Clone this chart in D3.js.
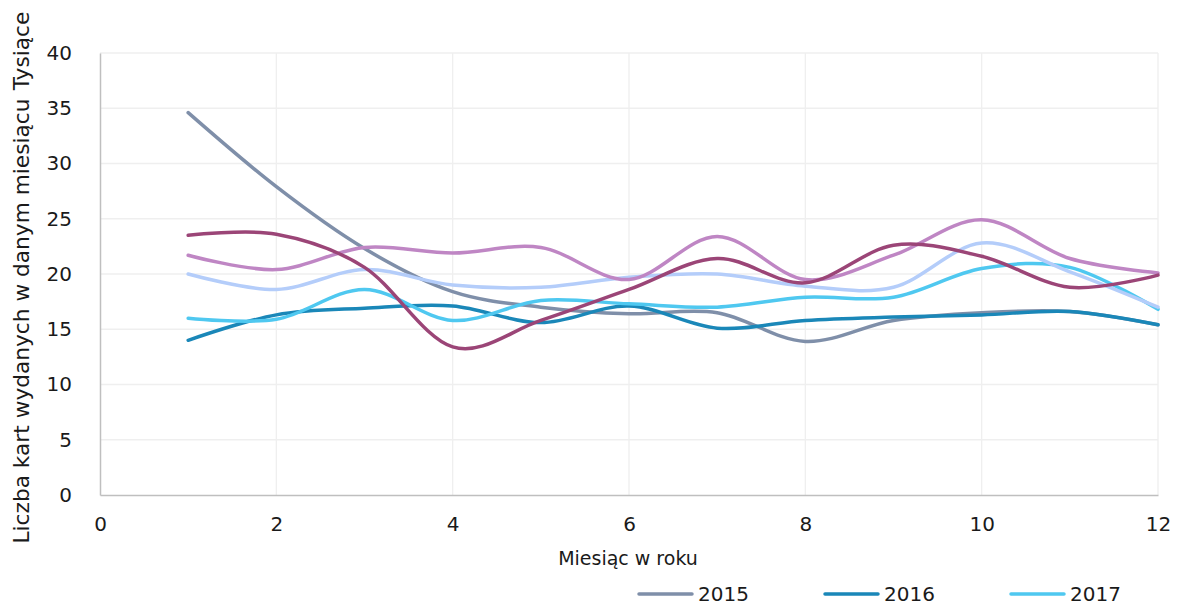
<!DOCTYPE html>
<html>
<head>
<meta charset="utf-8">
<script src="https://cdn.jsdelivr.net/npm/d3@7"></script>
<style>
  body { margin: 0; background: #fff; }
  text { font-family: "DejaVu Sans", Verdana, sans-serif; }
</style>
</head>
<body>
<div id="chart"></div>
<script>
(function(){
  'use strict';

  var months = [1, 2, 3, 4, 5, 6, 7, 8, 9, 10, 11, 12],
      seriesNames = ['2015', '2016', '2017', '2018', '2019', '2020'],
      seriesColors = ['#7f8fa9', '#1a87b8', '#4fc8f0', '#b4cdfa', '#bf86c4', '#9b4577'],
      v2015 = [34.6, 27.9, 22.3, 18.4, 17.0, 16.4, 16.5, 13.9, 15.8, 16.5, 16.6, 15.4],
      v2016 = [14.0, 16.3, 16.9, 17.1, 15.6, 17.1, 15.1, 15.8, 16.1, 16.3, 16.6, 15.4],
      v2017 = [16.0, 15.9, 18.6, 15.8, 17.6, 17.3, 17.0, 17.9, 17.9, 20.5, 20.6, 16.8],
      v2018 = [20.0, 18.6, 20.4, 19.0, 18.8, 19.7, 20.0, 18.9, 18.8, 22.8, 20.2, 17.0],
      v2019 = [21.7, 20.4, 22.4, 21.9, 22.4, 19.5, 23.4, 19.5, 21.7, 24.9, 21.4, 20.1],
      v2020 = [23.5, 23.6, 20.6, 13.4, 15.8, 18.6, 21.4, 19.2, 22.6, 21.6, 18.8, 19.9],
      seriesValues = [v2015, v2016, v2017, v2018, v2019, v2020],
      xTicks = [0, 2, 4, 6, 8, 10, 12],
      yTicks = [0, 5, 10, 15, 20, 25, 30, 35, 40],
      legendCount = 3;

  var w = 1177,
      h = 606,
      fs = '20px',
      ink = '#1a1a1a',
      svg = d3.select('#chart').append('svg')
        .attr('width', w)
        .attr('height', h);

  var x = d3.scaleLinear()
      .domain([0, 12])
      .range([100, 1158]),
    y = d3.scaleLinear()
      .domain([0, 40])
      .range([495, 53]);

  // grid
  svg.append('g').selectAll('line')
    .data(yTicks.filter(function(d){ return d > 0; }))
    .enter().append('line')
    .attr('x1', x(0)).attr('x2', x(12))
    .attr('y1', function(d){ return y(d); })
    .attr('y2', function(d){ return y(d); })
    .style('stroke', '#efefef').style('stroke-width', 1.3);

  svg.append('g').selectAll('line')
    .data(xTicks.filter(function(d){ return d > 0; }))
    .enter().append('line')
    .attr('y1', y(0)).attr('y2', y(40))
    .attr('x1', function(d){ return x(d); })
    .attr('x2', function(d){ return x(d); })
    .style('stroke', '#efefef').style('stroke-width', 1.3);

  var xAxis = d3.axisBottom(x).tickValues(xTicks).tickSize(0).tickPadding(22),
      yAxis = d3.axisLeft(y).tickValues(yTicks).tickSize(0).tickPadding(28);

  var gx = svg.append('g')
    .attr('transform', 'translate(0,' + y(0) + ')')
    .call(xAxis);
  var gy = svg.append('g')
    .attr('transform', 'translate(' + x(0) + ',0)')
    .call(yAxis);

  [gx, gy].forEach(function(g){
    g.select('.domain').style('stroke', '#bfbfbf').style('stroke-width', 1.5);
    g.selectAll('text')
      .style('font-family', '"DejaVu Sans", Verdana, sans-serif')
      .style('font-size', fs)
      .style('fill', ink);
  });

  // lines
  var line = d3.line()
    .x(function(d){ return x(d.m); })
    .y(function(d){ return y(d.v); })
    .curve(d3.curveCatmullRom.alpha(0));

  seriesValues.forEach(function(vals, i){
    var pts = months.map(function(m, j){ return {m: m, v: vals[j]}; });
    svg.append('path')
      .datum(pts)
      .attr('d', line)
      .style('fill', 'none')
      .style('stroke', seriesColors[i])
      .style('stroke-width', 3.5)
      .style('stroke-linecap', 'round');
  });

  // axis titles
  svg.append('text')
    .attr('x', 628)
    .attr('y', 565)
    .attr('text-anchor', 'middle')
    .style('font-size', '19px')
    .style('fill', ink)
    .text('Miesiąc w roku');

  svg.append('text')
    .attr('transform', 'translate(29,321) rotate(-90)')
    .attr('text-anchor', 'middle')
    .style('font-size', '21.7px')
    .style('fill', ink)
    .text('Liczba kart wydanych w danym miesiącu');

  svg.append('text')
    .attr('transform', 'translate(29,51) rotate(-90)')
    .attr('text-anchor', 'middle')
    .style('font-size', '21.7px')
    .style('fill', ink)
    .text('Tysiące');

  // legend (only the first entries fit)
  var leg = svg.append('g').selectAll('g')
    .data(seriesNames.slice(0, legendCount))
    .enter().append('g')
    .attr('transform', function(d, i){ return 'translate(' + (639 + i * 186) + ',594)'; });

  leg.append('line')
    .attr('x1', 0).attr('x2', 53)
    .style('stroke', function(d, i){ return seriesColors[i]; })
    .style('stroke-width', 3.5)
    .style('stroke-linecap', 'round');

  leg.append('text')
    .attr('x', 59)
    .attr('y', 7)
    .style('font-size', fs)
    .style('fill', ink)
    .text(function(d){ return d; });

}());
</script>
</body>
</html>
